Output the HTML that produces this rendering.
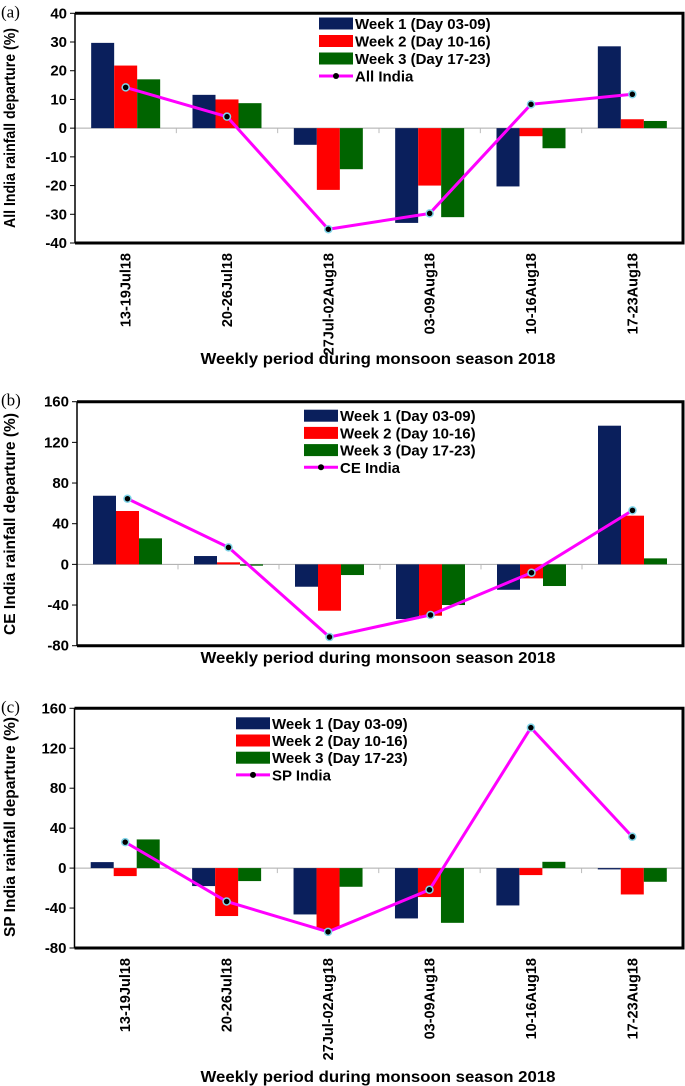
<!DOCTYPE html>
<html><head><meta charset="utf-8"><style>
html,body{margin:0;padding:0;background:#fff;}
svg{display:block;font-family:"Liberation Sans",sans-serif;}
</style></head><body>
<svg id="fig" width="685" height="1086" viewBox="0 0 685 1086"></svg>
<script>
const categories = ["13-19Jul18","20-26Jul18","27Jul-02Aug18","03-09Aug18","10-16Aug18","17-23Aug18"];
const seriesNames = ["Week 1 (Day 03-09)","Week 2 (Day 10-16)","Week 3 (Day 17-23)"];
const aWeek1 = [29.7, 11.6, -5.8, -33, -20.3, 28.5];
const aWeek2 = [21.8, 10, -21.5, -20, -2.8, 3.1];
const aWeek3 = [17, 8.7, -14.3, -31, -7, 2.5];
const aLine  = [14.2, 4, -35.2, -29.7, 8.3, 11.8];
const aTicks = [40,30,20,10,0,-10,-20,-30,-40];
const bWeek1 = [67.5, 8.2, -22, -53.8, -25, 136.4];
const bWeek2 = [52.5, 2, -45.6, -50.5, -13.8, 47.9];
const bWeek3 = [25.6, -1.3, -10.5, -40, -21.3, 5.9];
const bLine  = [64.6, 16.7, -71.5, -49.8, -8.2, 53.1];
const bTicks = [160,120,80,40,0,-40,-80];
const cWeek1 = [6, -18, -46.4, -50.4, -37.4, -1.3];
const cWeek2 = [-8, -48, -61, -29, -7, -26.4];
const cWeek3 = [28.7, -13, -18.7, -54.8, 6.3, -13.7];
const cLine  = [26, -33.4, -63.8, -21.7, 140.6, 31.4];
const cTicks = [160,120,80,40,0,-40,-80];

const NS="http://www.w3.org/2000/svg";
const svg=document.getElementById('fig');
const colors=["#0a1f5c","#ff0000","#006400"];
function mk(tag,attrs,parent){const e=document.createElementNS(NS,tag);for(const k in attrs)e.setAttribute(k,attrs[k]);(parent||svg).appendChild(e);return e;}

function panel(p){
  const g=mk('g',{});
  
  
  const L=p.left,R=683,T=p.top,B=p.bottom;
  const ymax=p.ticks[0],ymin=p.ticks[p.ticks.length-1];
  const y=v=>T+(ymax-v)/(ymax-ymin)*(B-T);
  const cw=(R-L)/categories.length;
  const cx=i=>L+cw*(i+0.5);
  const bw=23;
  const lab=mk('text',{x:1,y:T+4,'font-family':'Liberation Serif,serif','font-size':'17'},g);
  lab.textContent='('+p.id+')';
  
  
  const z=mk('line',{x1:L,x2:R,y1:y(0),y2:y(0),stroke:'#aaa','stroke-width':1},g);
  
  
  for(let i=1;i<categories.length;i++){mk('line',{x1:L+cw*i,x2:L+cw*i,y1:y(0),y2:y(0)+5,stroke:'#bbb'},g);}
  const series=[p.w1,p.w2,p.w3];
  series.forEach((s,si)=>{s.forEach((v,i)=>{
    const x=cx(i)-1.5*bw+si*bw;
    const r=mk('rect',{x:x,y:Math.min(y(v),y(0)),width:bw,height:Math.abs(y(v)-y(0)),fill:colors[si]},g);
    
    
  });});
  const pts=p.line.map((v,i)=>cx(i)+','+y(v)).join(' ');
  const pl=mk('polyline',{points:pts,fill:'none',stroke:'#ff00ff','stroke-width':3},g);
  
  
  p.line.forEach((v,i)=>{
    const c=mk('circle',{cx:cx(i),cy:y(v),r:3.5,fill:'#000',stroke:'#7fd4e8','stroke-width':1.5},g);
    
    
  });
  mk('line',{x1:L,x2:L,y1:T,y2:B,stroke:'#000','stroke-width':1.5},g);
  const fr=mk('path',{d:`M${L},${T} H${R} V${B} H${L}`,fill:'none',stroke:'#000','stroke-width':3},g);
  
  
  p.ticks.forEach(t=>{
    mk('line',{x1:L-5,x2:L,y1:y(t),y2:y(t),stroke:'#000'},g);
    const tx=mk('text',{x:L-8,y:y(t)+5,'text-anchor':'end','font-size':'15','font-weight':'bold'},g);
    tx.textContent=t;
    
    
  });
  const yt=mk('text',{transform:`translate(15,${p.ytC}) rotate(-90)`,'text-anchor':'middle','font-size':'16','font-weight':'bold',textLength:p.ytLen,lengthAdjust:'spacingAndGlyphs'},g);
  yt.textContent=p.ytitle;
  
  
  if(p.xlabels){categories.forEach((c,i)=>{
    const tx=mk('text',{transform:`translate(${cx(i)+5},${B+10}) rotate(-90)`,'text-anchor':'end','font-size':'14.5','font-weight':'bold'},g);
    tx.textContent=c;
    
    
  });}
  const xt=mk('text',{x:378,y:p.xtitleY,'text-anchor':'middle','font-size':'16','font-weight':'bold',textLength:355,lengthAdjust:'spacingAndGlyphs'},g);
  xt.textContent='Weekly period during monsoon season 2018';
  
  
  const lg=mk('g',{},g);
  
  
  const names=seriesNames.concat([p.lineName]);
  names.forEach((n,i)=>{
    const ry=p.legY+i*p.legDy;
    if(i<3){mk('rect',{x:p.legX,y:ry-6,width:34,height:12,fill:colors[i]},lg);}
    else{mk('line',{x1:p.legX,x2:p.legX+34,y1:ry,y2:ry,stroke:'#ff00ff','stroke-width':3},lg);mk('circle',{cx:p.legX+17,cy:ry,r:3,fill:'#000'},lg);}
    const t=mk('text',{x:p.legX+36,y:ry+5.5,'font-size':'15','font-weight':'bold'},lg);
    t.textContent=n;
    
    
  });
}
panel({id:'a',left:75,top:13.3,bottom:243,ticks:aTicks,w1:aWeek1,w2:aWeek2,w3:aWeek3,line:aLine,lineName:'All India',ytitle:'All India rainfall departure (%)',ytC:128,ytLen:200,xlabels:true,xtitleY:364,legX:319,legY:23.5,legDy:17.5});
panel({id:'b',left:77,top:401.7,bottom:645.7,ticks:bTicks,w1:bWeek1,w2:bWeek2,w3:bWeek3,line:bLine,lineName:'CE India',ytitle:'CE India rainfall departure (%)',ytC:524,ytLen:222,xlabels:false,xtitleY:663,legX:304,legY:415.7,legDy:17.2});
panel({id:'c',left:74.5,top:708.3,bottom:948,ticks:cTicks,w1:cWeek1,w2:cWeek2,w3:cWeek3,line:cLine,lineName:'SP India',ytitle:'SP India  rainfall departure (%)',ytC:827,ytLen:220,xlabels:true,xtitleY:1082,legX:236,legY:723.3,legDy:17.2});
</script>
</body></html>
